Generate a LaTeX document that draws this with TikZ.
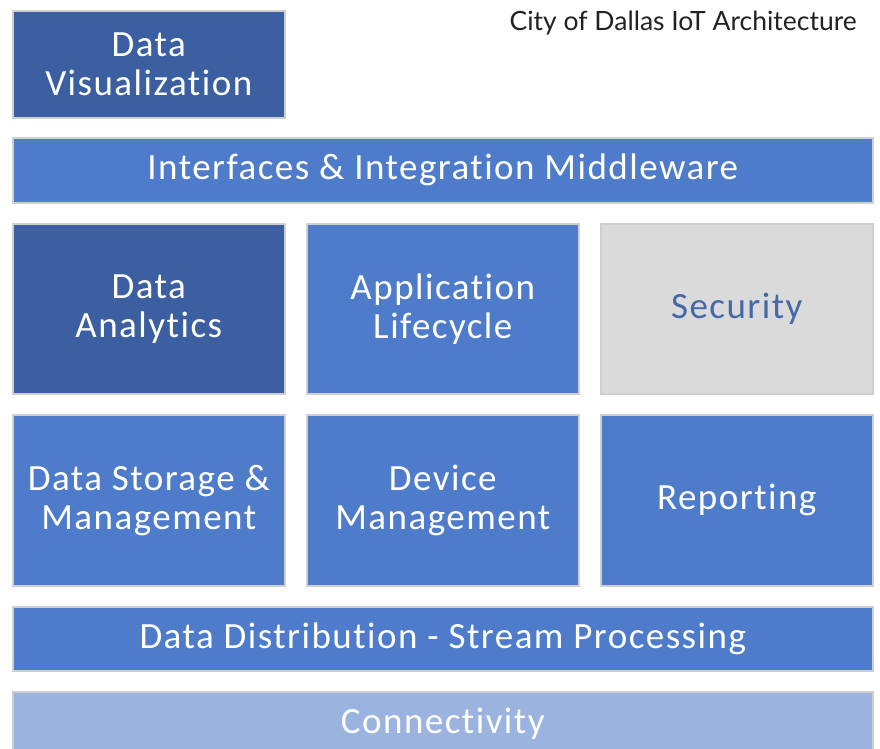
\documentclass[tikz,border=0pt]{standalone}
\usepackage{fontspec}
\setmainfont{Carlito}[LetterSpace=4, Ligatures=NoCommon]
\newfontfamily\titlefont{Lato}
\definecolor{darkblue}{HTML}{3B5FA0}
\definecolor{midblue}{HTML}{4F7CCA}
\definecolor{lightblue}{HTML}{9BB3DF}
\definecolor{greybox}{HTML}{DADADA}
\definecolor{edgegrey}{HTML}{CFCFCF}
\definecolor{sectext}{HTML}{4568A8}
\definecolor{titletext}{HTML}{222222}
\tikzset{
  tile/.style={draw=edgegrey, line width=1.6pt, anchor=north west, inner sep=0pt,
    text=white, align=center, font=\fontsize{37}{39}\selectfont},
  dark/.style={tile, fill=darkblue},
  mid/.style={tile, fill=midblue},
  light/.style={tile, fill=lightblue},
  grey/.style={tile, fill=greybox, text=sectext},
}
\begin{document}
\begin{tikzpicture}[x=1pt,y=-1pt]
\useasboundingbox (0,0) rectangle (880,748);
\fill[white] (0,0) rectangle (880,748);
\node[dark, minimum width=272pt, minimum height=107pt] (vis) at (12,10) {Data\\Visualization};
\node[mid, minimum width=860pt, minimum height=65pt] (mw) at (12,137) {Interfaces \& Integration Middleware};
\node[dark, minimum width=272pt, minimum height=170pt] (ana) at (12,223) {Data\\Analytics};
\node[mid, minimum width=272pt, minimum height=170pt] (app) at (306,223) {Application\\Lifecycle};
\node[grey, minimum width=272pt, minimum height=170pt] (sec) at (600,223) {Security};
\node[mid, minimum width=272pt, minimum height=171pt] (sto) at (12,414) {Data Storage \&\\Management};
\node[mid, minimum width=272pt, minimum height=171pt] (dev) at (306,414) {Device\\Management};
\node[mid, minimum width=272pt, minimum height=171pt] (rep) at (600,414) {Reporting};
\node[mid, minimum width=860pt, minimum height=64pt] (dist) at (12,606) {Data Distribution - Stream Processing};
\node[light, minimum width=860pt, minimum height=64pt] (con) at (12,691) {Connectivity};
\node[anchor=north east, inner sep=0pt, text=titletext, font=\titlefont\fontsize{26.5}{30}\selectfont] (title) at (857,11) {City of Dallas IoT Architecture};
\end{tikzpicture}
\end{document}
